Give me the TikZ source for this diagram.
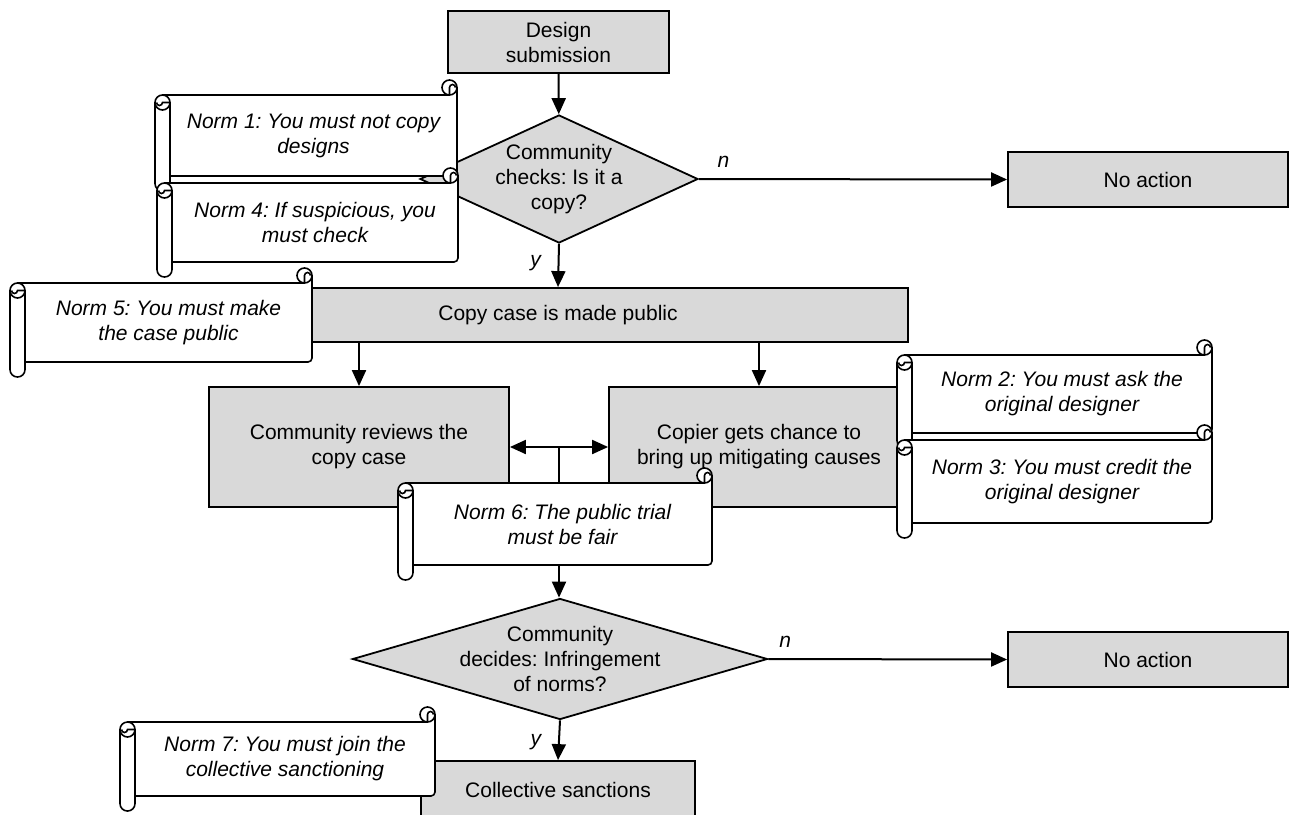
\documentclass[tikz,border=0pt]{standalone}
\usepackage{fontspec}
\setmainfont{Liberation Sans}
\usetikzlibrary{shapes.geometric,arrows.meta,calc}
\definecolor{boxgray}{HTML}{D9D9D9}
\frenchspacing

% scroll: name, left, top, right, bottom, text
\newcommand{\normscroll}[6]{%
	\fill[white] (#2+7.5,#3) -- (#4-7.5,#3) -- (#4-7.5,#3-7.5) -- (#4,#3-7.5) -- (#4,#5) -- (#2+7.5,#5) -- cycle;
	\draw[scrollline] (#2+7.5,#3) -- (#4-7.5,#3);
	\draw[scrollline, rounded corners=2pt] (#4,#3-7.5) -- (#4,#5) -- (#2+15,#5);
	\filldraw[scrollline, fill=white] (#4-7.5,#3-7.5) circle[radius=3.75pt];
	\draw[scrollline] (#4-7.5,#3) -- (#4-7.5,#3-7.5) arc[start angle=180, end angle=0, radius=1.5pt];
	\filldraw[scrollline, fill=white, rounded corners=3.7pt] (#2,#3+7.5) -- (#2,#5+15) -- (#2+15,#5+15) -- (#2+15,#3+7.5);
	\filldraw[scrollline, fill=white] (#2+7.5,#3+7.5) circle[radius=3.75pt];
	\draw[scrollline] (#2+15,#3+7.5) -- (#2+7.5,#3+7.5) arc[start angle=0, end angle=-180, radius=1.5pt];
	\node[normtext] (#1) at ({(#2+15+#4)/2},{(#3+#5)/2}) {#6};
}

\begin{document}
\begin{tikzpicture}[x=0.5pt,y=-0.5pt,
	every node/.style={font=\fontsize{10.5}{12.5}\selectfont},
	process/.style={draw, fill=boxgray, line width=0.9pt, align=center, inner sep=0pt},
	decision/.style={diamond, draw, fill=boxgray, line width=0.9pt, inner sep=0pt},
	dtext/.style={align=center},
	flow/.style={line width=1pt, -{Triangle[length=8pt,width=7pt]}},
	both/.style={line width=1pt, {Triangle[length=8pt,width=7pt]}-{Triangle[length=8pt,width=7pt]}},
	lbl/.style={font=\fontsize{10.5}{12.5}\selectfont\itshape},
	scrollline/.style={line width=0.8pt},
	normtext/.style={align=center, font=\fontsize{10.5}{12.5}\selectfont\itshape}]
	\useasboundingbox (0,0) rectangle (1289,814);

	\node[process, minimum width=110.5pt, minimum height=31pt] (design) at (558.5,42) {Design\\submission};
	\node[decision, minimum width=139pt, minimum height=64pt,
		label={[dtext]center:{Community\\checks: Is it a\\copy?}}] (check) at (559,179) {};
	\node[process, minimum width=140pt, minimum height=27.5pt] (noact1) at (1148,179.5) {No action};
	\node[process, minimum width=350pt, minimum height=27pt] (public) at (558,315) {Copy case is made public};
	\node[process, minimum width=150pt, minimum height=60pt] (review) at (359,447) {Community reviews the\\copy case};
	\node[process, minimum width=150pt, minimum height=60pt] (copier) at (759,447) {Copier gets chance to\\bring up mitigating causes};
	\node[decision, minimum width=207.5pt, minimum height=60.5pt,
		label={[dtext]center:{Community\\decides: Infringement\\of norms?}}] (decide) at (560,659) {};
	\node[process, minimum width=140pt, minimum height=27.5pt] (noact2) at (1148,659.5) {No action};
	\node[process, minimum width=137pt, minimum height=29pt] (sanction) at (558,790) {Collective sanctions};

	\coordinate (trial) at ($(review.east)!0.5!(copier.west)$);

	\draw[flow] (design) -- (check);
	\draw[flow] (check.east) -- node[lbl, pos=0.08, above=2pt] {n} (noact1.west);
	\draw[flow] (check.south) -- node[lbl, pos=0.45, left=5pt] {y} (public.north);
	\draw[flow] (public.south -| review.north) -- (review.north);
	\draw[flow] (public.south -| copier.north) -- (copier.north);
	\draw[both] (review.east) -- (copier.west);
	\draw[flow] (trial) -- (trial |- decide.north);
	\draw[flow] (decide.east) -- node[lbl, pos=0.07, above=2pt] {n} (noact2.west);
	\draw[flow] (decide.south) -- node[lbl, pos=0.55, left=5pt] {y} (sanction.north);

	\normscroll{norm1}{155}{95}{457}{176}{Norm 1: You must not copy\\designs}
	\normscroll{norm4}{157}{183}{458}{262}{Norm 4: If suspicious, you\\must check}
	\normscroll{norm5}{10}{283}{312}{362}{Norm 5: You must make\\the case public}
	\normscroll{norm2}{897}{355}{1212}{433}{Norm 2: You must ask the\\original designer}
	\normscroll{norm3}{897}{440}{1212}{523}{Norm 3: You must credit the\\original designer}
	\normscroll{norm6}{398}{483}{712}{565}{Norm 6: The public trial\\must be fair}
	\normscroll{norm7}{120}{722}{435}{796}{Norm 7: You must join the\\collective sanctioning}
\end{tikzpicture}
\end{document}
